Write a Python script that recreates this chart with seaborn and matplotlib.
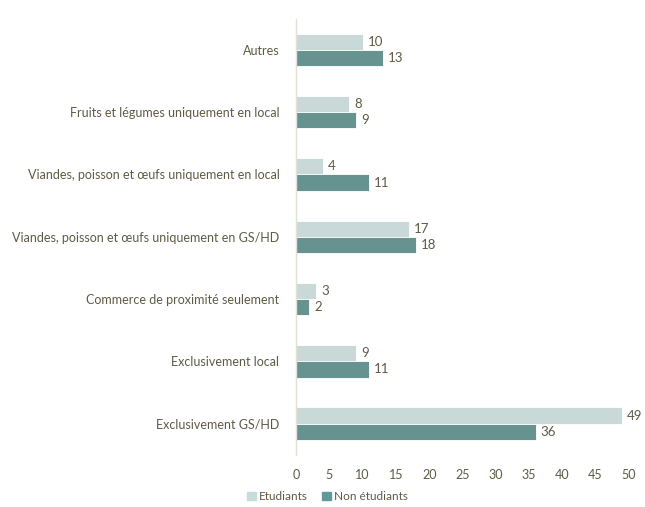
import matplotlib
matplotlib.use("Agg")
import matplotlib.pyplot as plt
import seaborn as sns
import pandas as pd

categories = [
    "Autres",
    "Fruits et légumes uniquement en local",
    "Viandes, poisson et œufs uniquement en local",
    "Viandes, poisson et œufs uniquement en GS/HD",
    "Commerce de proximité seulement",
    "Exclusivement local",
    "Exclusivement GS/HD",
]
etudiants = [10, 8, 4, 17, 3, 9, 49]
non_etudiants = [13, 9, 11, 18, 2, 11, 36]
series_names = ["Etudiants", "Non étudiants"]
x_ticks = [0, 5, 10, 15, 20, 25, 30, 35, 40, 45, 50]

text_color = "#5f5a45"
palette = {"Etudiants": "#c5dcda", "Non étudiants": "#5f9a96"}

df = pd.DataFrame({
    "cat": categories * 2,
    "val": etudiants + non_etudiants,
    "serie": [series_names[0]] * len(categories) + [series_names[1]] * len(categories),
})

sns.set_style("white")
plt.rcParams["font.family"] = ["Lato", "DejaVu Sans"]

fig = plt.figure(figsize=(6.45, 5.07), dpi=100)
ax = fig.add_axes([0.459, 0.103, 0.516, 0.860])

sns.barplot(data=df, y="cat", x="val", hue="serie", palette=palette,
            orient="h", width=0.52, ax=ax, legend=False,
            edgecolor="white", linewidth=0.6)

for cont in ax.containers:
    ax.bar_label(cont, labels=[f"{int(v)}" for v in cont.datavalues],
                 padding=3.5, fontsize=9.5, color=text_color)

ax.set_xlim(0, 50)
ax.set_xticks(x_ticks)
ax.set_xlabel("")
ax.set_ylabel("")
ax.tick_params(axis="both", length=0, labelsize=9, colors=text_color)
ax.tick_params(axis="x", pad=10)
ax.tick_params(axis="y", pad=12)
for lbl in ax.get_yticklabels() + ax.get_xticklabels():
    lbl.set_color(text_color)

for side in ["top", "right", "bottom"]:
    ax.spines[side].set_visible(False)
ax.spines["left"].set_color("#e3e0d8")
ax.spines["left"].set_linewidth(1.0)

handles = [plt.Rectangle((0, 0), 1, 1, color=palette[n]) for n in series_names]
fig.legend(handles, series_names, loc="center", bbox_to_anchor=(0.508, 0.02),
           ncol=2, frameon=False, fontsize=8.5, handlelength=0.7,
           handleheight=0.7, handletextpad=0.3, columnspacing=1.2,
           labelcolor=text_color)

fig.savefig("out.png", dpi=100, facecolor="white")
